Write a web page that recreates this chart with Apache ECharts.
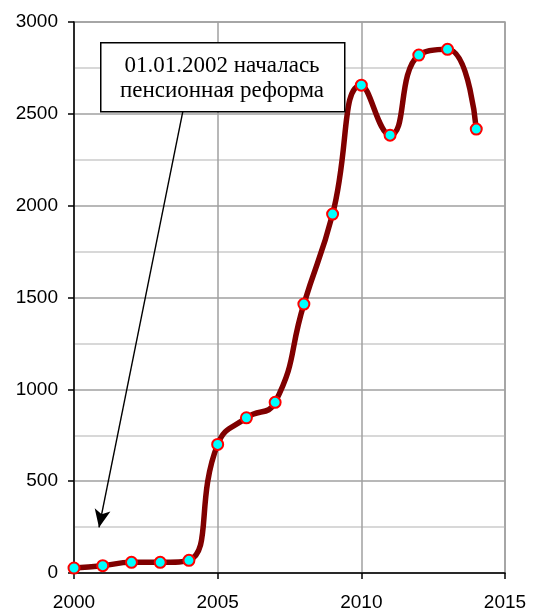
<!DOCTYPE html>
<html>
<head>
<meta charset="utf-8">
<script src="https://cdn.jsdelivr.net/npm/echarts@6/dist/echarts.min.js"></script>
<style>html,body{margin:0;padding:0;background:#fff;}#c{width:533px;height:615px;}</style>
</head>
<body>
<div id="c"></div>
<script>
var years = [2000,2001,2002,2003,2004,2005,2006,2007,2008,2009,2010,2011,2012,2013,2014];
var values = [27,40,58,58,69,700,845,929,1464,1954,2656,2384,2820,2851,2417];
var yTicks = [0,500,1000,1500,2000,2500,3000];
var xTicks = [2000,2005,2010,2015];
var noteLines = ['01.01.2002 началась', 'пенсионная реформа'];

var chart = echarts.init(document.getElementById('c'));
var noteFont = '23px "Liberation Serif", "Times New Roman", serif';
chart.setOption({
  animation: false,
  backgroundColor: '#fff',
  grid: {left: 74, right: 28, top: 22, bottom: 42, show: true, borderColor: '#a0a0a0', borderWidth: 1.5},
  xAxis: {
    type: 'value', min: xTicks[0], max: xTicks[xTicks.length-1], interval: 5,
    axisLine: {show: true, onZero: false, lineStyle: {color: '#000', width: 1.5}},
    axisTick: {show: true, length: 6, lineStyle: {color: '#000', width: 1.5}},
    axisLabel: {color: '#000', fontFamily: 'Liberation Sans, Arial', fontSize: 19, margin: 20, formatter: function(v){return String(v);}},
    splitLine: {show: true, lineStyle: {color: '#a0a0a0', width: 1.5}}
  },
  yAxis: {
    type: 'value', min: yTicks[0], max: yTicks[yTicks.length-1], interval: 500,
    axisLine: {show: true, lineStyle: {color: '#000', width: 1.5}},
    axisTick: {show: true, length: 6, lineStyle: {color: '#000', width: 1.5}},
    axisLabel: {color: '#000', fontFamily: 'Liberation Sans, Arial', fontSize: 19, margin: 16, formatter: function(v){return String(v);}},
    splitLine: {show: true, lineStyle: {color: '#a0a0a0', width: 1.5}},
    minorTick: {show: false, splitNumber: 2},
    minorSplitLine: {show: true, lineStyle: {color: '#cccccc', width: 1.5}}
  },
  series: [{
    type: 'line',
    data: years.map(function(y, i){ return [y, values[i]]; }),
    smooth: 0.5,
    symbol: 'circle',
    symbolSize: 11,
    lineStyle: {color: '#800000', width: 5.5},
    itemStyle: {color: '#00ffff', borderColor: '#ff0000', borderWidth: 2},
    z: 3,
    markLine: {
      silent: true,
      symbol: ['none', 'arrow'],
      symbolSize: [12, 18],
      label: {show: false},
      lineStyle: {color: '#000', width: 1.4, type: 'solid'},
      data: [[{coord: [2003.79, 2515]}, {coord: [2000.87, 248]}]]
    }
  }],
  graphic: [
    {type: 'rect', left: 100, top: 42, z: 100, shape: {x: 0, y: 0, width: 244, height: 69}, style: {fill: '#fff', stroke: '#000', lineWidth: 1.5}},
    {type: 'text', z: 101, x: 222, y: 66, style: {text: noteLines[0], fill: '#000', font: noteFont, textAlign: 'center', textVerticalAlign: 'middle'}},
    {type: 'text', z: 101, x: 222, y: 91, style: {text: noteLines[1], fill: '#000', font: noteFont, textAlign: 'center', textVerticalAlign: 'middle'}}
  ]
});
</script>
</body>
</html>
